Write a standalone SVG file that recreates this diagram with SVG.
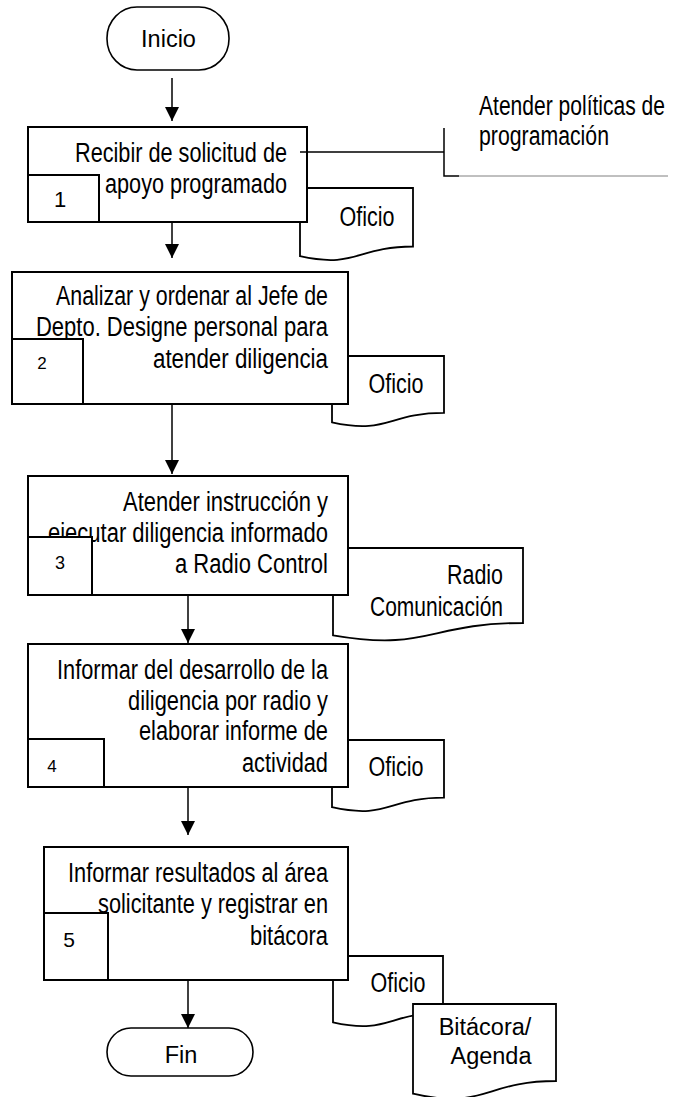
<svg xmlns="http://www.w3.org/2000/svg" width="676" height="1097" viewBox="0 0 676 1097">
<style>
.box{fill:#fff;stroke:#000;stroke-width:2}
.doc{fill:#fff;stroke:#000;stroke-width:1.8}
.term{fill:#fff;stroke:#000;stroke-width:1.6}
.ln{fill:none;stroke:#000;stroke-width:1.5}
.n{font-family:"Liberation Sans Narrow","Arial Narrow","Liberation Sans",sans-serif;font-size:27px;fill:#000}
.w{font-family:"Liberation Sans",Arial,sans-serif;font-size:23.5px;fill:#000}
.end{text-anchor:end}
.mid{text-anchor:middle}
</style>
<defs>
<marker id="ah" markerWidth="14" markerHeight="14" viewBox="0 0 14 14" refX="14" refY="7" orient="auto" markerUnits="userSpaceOnUse">
<path d="M0,0 L14,7 L0,14 Z" fill="#000"/>
</marker>
</defs>
<rect width="676" height="1097" fill="#fff"/>

<g id="doc1"><path class="doc" d="M300,188 H413 V246.5 C356.5,246.5 356.5,268.8 300,256.2 Z"/><text class="n mid" x="367" y="226" textLength="55" lengthAdjust="spacingAndGlyphs">Oficio</text></g>
<g id="doc2"><path class="doc" d="M332,356 H444 V412.9 C388,412.9 388,434.6 332,422.3 Z"/><text class="n mid" x="396" y="393" textLength="55" lengthAdjust="spacingAndGlyphs">Oficio</text></g>
<g id="doc3"><path class="doc" d="M333,548 H523 V623 C428,623 428,651.6 333,635.3 Z"/><text class="n end" x="503" y="584" textLength="56" lengthAdjust="spacingAndGlyphs">Radio</text><text class="n end" x="503" y="616" textLength="133" lengthAdjust="spacingAndGlyphs">Comunicación</text></g>
<g id="doc4"><path class="doc" d="M332,740 H444 V797.7 C388,797.7 388,819.7 332,807.2 Z"/><text class="n mid" x="396" y="776" textLength="55" lengthAdjust="spacingAndGlyphs">Oficio</text></g>
<g id="doc5"><path class="doc" d="M333,956 H443 V1012.9 C388,1012.9 388,1034.6 333,1022.3 Z"/><text class="n mid" x="398" y="992" textLength="55" lengthAdjust="spacingAndGlyphs">Oficio</text></g>
<g id="doc6"><path class="doc" d="M413,1004 H556 V1081 C484.5,1081 484.5,1110.3 413,1093.7 Z"/><text class="w mid" x="485" y="1035">Bitácora/</text><text class="w mid" x="491" y="1064">Agenda</text></g>

<g id="inicio"><rect class="term" x="107" y="7" width="122" height="63" rx="30" ry="31"/><text class="w mid" x="168.5" y="47">Inicio</text></g>

<g id="step1"><rect class="box" x="28" y="127" width="279" height="95"/>
<text class="n end" x="287" y="162" textLength="212" lengthAdjust="spacingAndGlyphs">Recibir de solicitud de</text>
<text class="n end" x="287" y="193" textLength="182" lengthAdjust="spacingAndGlyphs">apoyo programado</text>
<rect class="box" x="28" y="175" width="71" height="47"/>
<text class="w mid" x="60" y="207" style="font-size:22px">1</text></g>

<g id="step2"><rect class="box" x="12" y="272" width="336" height="132"/>
<text class="n end" x="328" y="305" textLength="272" lengthAdjust="spacingAndGlyphs">Analizar y ordenar al Jefe de</text>
<text class="n end" x="328" y="336" textLength="292" lengthAdjust="spacingAndGlyphs">Depto. Designe personal para</text>
<text class="n end" x="328" y="368" textLength="175" lengthAdjust="spacingAndGlyphs">atender diligencia</text>
<rect class="box" x="12" y="339" width="71" height="65"/>
<text class="w mid" x="42" y="369" style="font-size:17px">2</text></g>

<g id="step3"><rect class="box" x="28" y="476" width="320" height="119"/>
<text class="n end" x="328" y="511" textLength="205" lengthAdjust="spacingAndGlyphs">Atender instrucción y</text>
<text class="n end" x="328" y="542" textLength="280" lengthAdjust="spacingAndGlyphs">ejecutar diligencia informado</text>
<text class="n end" x="328" y="573" textLength="153" lengthAdjust="spacingAndGlyphs">a Radio Control</text>
<rect class="box" x="28" y="537" width="64" height="58"/>
<text class="w mid" x="60" y="569" style="font-size:18px">3</text></g>

<g id="step4"><rect class="box" x="28" y="644" width="320" height="143"/>
<text class="n end" x="328" y="679" textLength="271" lengthAdjust="spacingAndGlyphs">Informar del desarrollo de la</text>
<text class="n end" x="328" y="710" textLength="200" lengthAdjust="spacingAndGlyphs">diligencia por radio y</text>
<text class="n end" x="328" y="740" textLength="189" lengthAdjust="spacingAndGlyphs">elaborar informe de</text>
<text class="n end" x="328" y="772" textLength="86" lengthAdjust="spacingAndGlyphs">actividad</text>
<rect class="box" x="28" y="739" width="76" height="48"/>
<text class="w mid" x="52" y="772" style="font-size:17px">4</text></g>

<g id="step5"><rect class="box" x="44" y="847" width="304" height="133"/>
<text class="n end" x="328" y="882" textLength="260" lengthAdjust="spacingAndGlyphs">Informar resultados al área</text>
<text class="n end" x="328" y="913" textLength="230" lengthAdjust="spacingAndGlyphs">solicitante y registrar en</text>
<text class="n end" x="328" y="945" textLength="78" lengthAdjust="spacingAndGlyphs">bitácora</text>
<rect class="box" x="44" y="913" width="64" height="67"/>
<text class="w mid" x="69" y="947" style="font-size:21px">5</text></g>

<g id="fin"><rect class="term" x="107" y="1028" width="146" height="48" rx="24" ry="24"/><text class="w mid" x="181" y="1063">Fin</text></g>

<g id="nota"><text class="n" x="479" y="115" textLength="186" lengthAdjust="spacingAndGlyphs">Atender políticas de</text><text class="n" x="479" y="145" textLength="130" lengthAdjust="spacingAndGlyphs">programación</text></g>

<g id="connectors">
<line class="ln" x1="172" y1="78" x2="172" y2="121" marker-end="url(#ah)"/>
<line class="ln" x1="172" y1="222" x2="172" y2="258" marker-end="url(#ah)"/>
<line class="ln" x1="172" y1="404" x2="172" y2="474" marker-end="url(#ah)"/>
<line class="ln" x1="188" y1="595" x2="188" y2="643" marker-end="url(#ah)"/>
<line class="ln" x1="188" y1="787" x2="188" y2="835" marker-end="url(#ah)"/>
<line class="ln" x1="188" y1="980" x2="188" y2="1028" marker-end="url(#ah)"/>
<path class="ln" d="M300,152 H444 M444,128 V176 H459"/>
<line x1="459" y1="176" x2="668" y2="176" stroke="#808080" stroke-width="1"/>
</g>
</svg>
